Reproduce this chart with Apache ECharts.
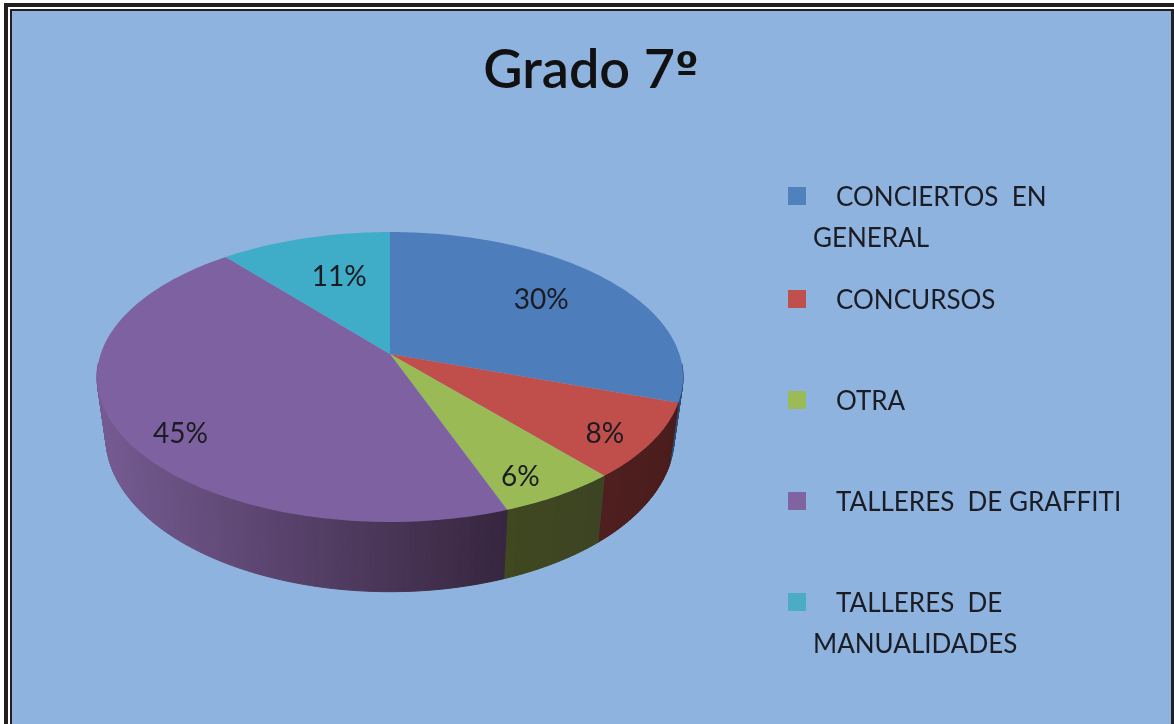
<!DOCTYPE html>
<html>
<head>
<meta charset="utf-8">
<title>Grado 7º</title>
<style>
  html, body { margin: 0; padding: 0; background: #fff; }
  #myChart { width: 1174px; height: 724px; }
</style>
<script src="https://cdn.jsdelivr.net/npm/echarts@6/dist/echarts.min.js"></script>
</head>
<body>
<div id="myChart"></div>
<script>
var categories = ["CONCIERTOS EN GENERAL", "CONCURSOS", "OTRA", "TALLERES DE GRAFFITI", "TALLERES DE MANUALIDADES"];
var values = [30.3, 8.4, 5.7, 44.6, 11];
var colors = ["#4f81bd", "#c0504d", "#9bbb59", "#8064a2", "#4bacc6"];
var faceColors = ["#4d7dbb", "#c04e4b", "#99ba55", "#7e61a0", "#3facc8"];
// 侧面颜色，[起点, 终点]
var wallColors = [
  [[47, 77, 117], [47, 77, 117]],
  [[78, 31, 30], [74, 29, 28]],
  [[64, 72, 31], [61, 68, 35]],
  [[117, 91, 146], [55, 38, 63]],
  [[43, 106, 122], [43, 106, 122]]
];
var legendLines = [
  ["CONCIERTOS  EN", "GENERAL"],
  ["CONCURSOS"],
  ["OTRA"],
  ["TALLERES  DE GRAFFITI"],
  ["TALLERES  DE", "MANUALIDADES"]
];

// 饼图透视参数
var cx = 390, cy = 354;
var rx = 289.3, ry = 141.3, persp = 0.1586;
var depth = 58, bottomScaleX = 0.97, bottomScaleY = 1.07;
var total = values.reduce(function (a, b) { return a + b; }, 0);

// 标签离圆心的比例，再加一点像素偏移（Excel 的 best fit 不是固定半径）
var labelRadius = [0.72, 0.86, 0.82, 0.72, 0.72];
var labelOffset = [[-8, 1], [-8, 6], [-5, 10], [-18, 26], [13, 9]];
var legendTop = [196, 299, 400, 501, 602];
var lineGap = 41;

// 角度从正上方顺时针算，r 是半径比例，bottom 表示底面
function project(angle, r, bottom) {
  var sx = Math.sin(angle) * r;
  var sy = -Math.cos(angle) * r;
  var d = 1 - persp * sy;
  return [
    cx + rx * sx / d * (bottom ? bottomScaleX : 1),
    cy + ry * sy / d * (bottom ? bottomScaleY : 1) + (bottom ? depth : 0)
  ];
}

function arcPoints(start, end, bottom) {
  var pts = [];
  var n = Math.max(4, Math.ceil((end - start) * 60));
  for (var i = 0; i <= n; i++) {
    pts.push(project(start + (end - start) * i / n, 1, bottom));
  }
  return pts;
}

function sliceAngles(idx) {
  var before = 0;
  for (var i = 0; i < idx; i++) before += values[i];
  return [before / total * Math.PI * 2, (before + values[idx]) / total * Math.PI * 2];
}

function mixColor(a, b, t) {
  return "rgb(" + Math.round(a[0] + (b[0] - a[0]) * t) + "," +
    Math.round(a[1] + (b[1] - a[1]) * t) + "," +
    Math.round(a[2] + (b[2] - a[2]) * t) + ")";
}

// 侧面拆成很多小四边形，这样左右两头的轮廓才是满的
function renderWall(params, api) {
  var idx = params.dataIndex;
  var a = sliceAngles(idx);
  var top = arcPoints(a[0], a[1], false);
  var bot = arcPoints(a[0], a[1], true);
  var minX = Math.min.apply(null, top.map(function (p) { return p[0]; }));
  var maxX = Math.max.apply(null, top.map(function (p) { return p[0]; }));
  var children = [];
  for (var i = 0; i < top.length - 1; i++) {
    // 后半圈被顶面挡住，不画，否则描边会从边缘露出来
    if (top[i][1] < cy + 10 && top[i + 1][1] < cy + 10) continue;
    var t = (top[i][0] - minX) / (maxX - minX);
    var c = mixColor(wallColors[idx][0], wallColors[idx][1], t);
    children.push({
      type: "polygon",
      shape: { points: [top[i], top[i + 1], bot[i + 1], bot[i]] },
      style: { fill: c, stroke: c, lineWidth: 1 }
    });
  }
  return { type: "group", children: children };
}

function renderFace(params, api) {
  var idx = params.dataIndex;
  var a = sliceAngles(idx);
  var pts = [project(0, 0, false)].concat(arcPoints(a[0], a[1], false));
  var mid = (a[0] + a[1]) / 2;
  var p = project(mid, labelRadius[idx], false);
  return {
    type: "group",
    children: [
      {
        type: "polygon",
        shape: { points: pts },
        style: { fill: faceColors[idx], stroke: null }
      },
      {
        type: "text",
        z2: 10,
        x: p[0] + labelOffset[idx][0],
        y: p[1] + labelOffset[idx][1],
        style: {
          text: Math.round(api.value(0)) + "%",
          fill: "#1b1b22",
          font: "28px Lato, 'Open Sans', sans-serif",
          align: "center",
          verticalAlign: "middle"
        }
      }
    ]
  };
}

// 外框和背景
var graphics = [
  { type: "rect", silent: true, z: -5, shape: { x: 4, y: 3, width: 1170, height: 721 }, style: { fill: "#231f20" } },
  { type: "rect", silent: true, z: -5, shape: { x: 8, y: 7, width: 1166, height: 717 }, style: { fill: "#ffffff" } },
  { type: "rect", silent: true, z: -5, shape: { x: 10, y: 9, width: 1164, height: 715 }, style: { fill: "#231f20" } },
  { type: "rect", silent: true, z: -5, shape: { x: 12, y: 11, width: 1159, height: 713 }, style: { fill: "#8eb3de" } }
];

// 图例，第二行要顶到色块右边，所以没用自带的 legend
categories.forEach(function (name, i) {
  graphics.push({
    type: "rect",
    silent: true,
    shape: { x: 788, y: legendTop[i] - 9, width: 18, height: 18 },
    style: { fill: colors[i] }
  });
  legendLines[i].forEach(function (line, j) {
    graphics.push({
      type: "text",
      silent: true,
      x: j == 0 ? 836 : 813,
      y: legendTop[i] + 2 + j * lineGap,
      style: {
        text: line,
        fill: "#1c1c24",
        font: "26px Lato, 'Open Sans', sans-serif",
        align: "left",
        verticalAlign: "middle"
      }
    });
  });
});

var myChart = echarts.init(document.getElementById("myChart"));
myChart.setOption({
  backgroundColor: "#ffffff",
  animation: false,
  title: {
    text: "Grado 7{o|º}",
    left: 586,
    top: 39,
    textAlign: "center",
    textStyle: {
      fontFamily: "Lato, 'Open Sans', sans-serif",
      fontSize: 54,
      fontWeight: 600,
      color: "#111111",
      rich: {
        o: {
          fontFamily: "'DejaVu Sans', sans-serif",
          fontSize: 42,
          fontWeight: "bold",
          color: "#111111"
        }
      }
    }
  },
  graphic: graphics,
  series: [
    {
      type: "custom",
      coordinateSystem: "none",
      name: "wall",
      z: 2,
      clip: false,
      renderItem: renderWall,
      data: values.map(function (v, i) { return { name: categories[i], value: [v] }; })
    },
    {
      type: "custom",
      coordinateSystem: "none",
      name: "face",
      z: 3,
      clip: false,
      renderItem: renderFace,
      data: values.map(function (v, i) { return { name: categories[i], value: [v] }; })
    }
  ]
});
</script>
</body>
</html>
